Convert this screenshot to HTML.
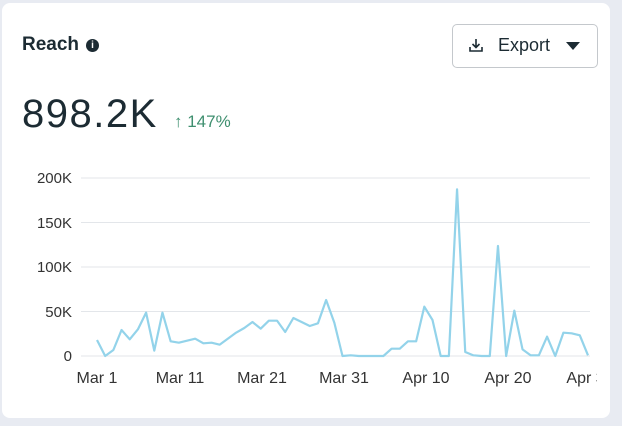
<!DOCTYPE html>
<html><head><meta charset="utf-8"><style>
html,body{margin:0;padding:0;width:622px;height:426px;overflow:hidden;background:#e8ebf2;font-family:"Liberation Sans",sans-serif;}
.card{position:absolute;left:2px;top:3px;width:608px;height:415px;background:#fff;border-radius:8px;}
.t{position:absolute;color:#1c2b33;}
</style></head><body>
<div class="card"></div>
<div class="t" style="left:22px;top:34px;font-size:19px;font-weight:bold;">Reach</div>
<div style="position:absolute;left:86px;top:39px;width:13px;height:13px;border-radius:50%;background:#1c2b33;color:#fff;font-size:10px;font-weight:bold;text-align:center;line-height:13px;">i</div>
<div style="position:absolute;left:452px;top:24px;width:144px;height:42px;border:1px solid #c4c8cc;border-radius:5px;background:#fff;"></div>
<svg style="position:absolute;left:468px;top:37px" width="16" height="16" viewBox="0 0 16 16"><path d="M8 2v8M4.5 7l3.5 3.5L11.5 7M2 10v4h12v-4" fill="none" stroke="#1c2b33" stroke-width="1.6"/></svg>
<div class="t" style="left:498px;top:35px;font-size:18px;">Export</div>
<svg style="position:absolute;left:566px;top:42px" width="14" height="8"><path d="M0 0h14L7 8z" fill="#1c2b33"/></svg>
<div class="t" style="left:22px;top:92px;font-size:40px;letter-spacing:1.5px;">898.2K</div>
<div style="position:absolute;left:174px;top:112px;font-size:17px;color:#3f8f6f;">↑ 147%</div>
<svg style="position:absolute;left:0;top:0" width="622" height="426">
<g stroke="#e3e6ea" stroke-width="1">
<line x1="81" x2="590" y1="178" y2="178"/><line x1="81" x2="590" y1="222.5" y2="222.5"/><line x1="81" x2="590" y1="267" y2="267"/><line x1="81" x2="590" y1="311.5" y2="311.5"/><line x1="81" x2="590" y1="356" y2="356"/>
</g>
<g font-family="Liberation Sans, sans-serif" font-size="15" fill="#333" text-anchor="end">
<text x="72" y="183">200K</text><text x="72" y="228">150K</text><text x="72" y="272">100K</text><text x="72" y="317">50K</text><text x="72" y="361">0</text>
</g>
<polyline fill="none" stroke="#93d3ea" stroke-width="2.2" stroke-linejoin="round" vector-effect="non-scaling-stroke" transform="translate(97,170) scale(8.183,0.33333)" points="0,510 1,558 2,540 3,480 4,508 5,478 6,428 7,542 8,428 9,514 10,518 11,512 12,506 13,520 14,518 15,524 16,506 17,488 18,474 19,456 20,476 21,452 22,452 23,486 24,444 25,456 26,468 27,460 28,390 29,458 30,558 31,556 32,558 33,558 34,558 35,558 36,536 37,536 38,514 39,514 40,410 41,450 42,558 43,558 44,58 45,546 46,556 47,558 48,558 49,228 50,558 51,422 52,538 53,556 54,556 55,500 56,558 57,488 58,490 59,496 60,556"/>
<defs><clipPath id="c"><rect x="0" y="360" width="597" height="30"/></clipPath></defs>
<g font-family="Liberation Sans, sans-serif" font-size="16" fill="#333" text-anchor="middle" clip-path="url(#c)">
<text x="97" y="383">Mar 1</text><text x="180" y="383">Mar 11</text><text x="262" y="383">Mar 21</text><text x="344" y="383">Mar 31</text><text x="426" y="383">Apr 10</text><text x="508" y="383">Apr 20</text><text x="590" y="383">Apr 30</text>
</g>
</svg>
</body></html>
